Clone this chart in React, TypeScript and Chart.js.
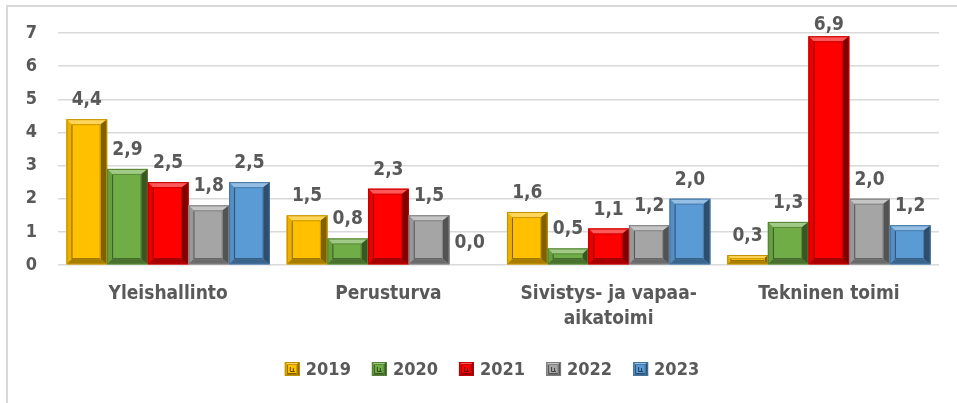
import React, { useEffect, useRef } from "react";
import { Chart, registerables } from "chart.js";

Chart.register(...registerables);

const categories: string[][] = [
  ["Yleishallinto"],
  ["Perusturva"],
  ["Sivistys- ja vapaa-", "aikatoimi"],
  ["Tekninen toimi"],
];
const seriesNames = ["2019", "2020", "2021", "2022", "2023"];
const values2019 = [4.4, 1.5, 1.6, 0.3];
const values2020 = [2.9, 0.8, 0.5, 1.3];
const values2021 = [2.5, 2.3, 1.1, 6.9];
const values2022 = [1.8, 1.5, 1.2, 2.0];
const values2023 = [2.5, 0.0, 2.0, 1.2];
const seriesColors = ["#FFC000", "#70AD47", "#FF0000", "#A5A5A5", "#5B9BD5"];
const yMin = 0;
const yMax = 7;
const yStep = 1;

const FONT = "'DejaVu Sans Condensed', 'DejaVu Sans', sans-serif";
const TEXT = "#595959";

function hexToRgb(h: string) {
  const v = parseInt(h.slice(1), 16);
  return [(v >> 16) & 255, (v >> 8) & 255, v & 255];
}
function mix(hex: string, target: number, amt: number) {
  const [r, g, b] = hexToRgb(hex);
  const f = (c: number) => Math.round(c + (target - c) * amt);
  return `rgb(${f(r)},${f(g)},${f(b)})`;
}

function quad(ctx: CanvasRenderingContext2D, pts: number[][], fill: string) {
  ctx.beginPath();
  ctx.moveTo(pts[0][0], pts[0][1]);
  for (let i = 1; i < pts.length; i++) ctx.lineTo(pts[i][0], pts[i][1]);
  ctx.closePath();
  ctx.fillStyle = fill;
  ctx.fill();
}

function drawBevel(
  ctx: CanvasRenderingContext2D,
  l: number,
  t: number,
  r: number,
  b: number,
  color: string,
  band: number
) {
  const w = r - l;
  const h = b - t;
  if (w < 1 || h < 0.8) return;
  const bw = Math.max(1, Math.min(band, w / 3, h / 3));
  const bwR = Math.max(1, Math.min(band * 1.3, w / 3, h / 3));
  ctx.save();
  ctx.fillStyle = color;
  ctx.fillRect(l, t, w, h);
  quad(ctx, [[l, t], [r, t], [r - bwR, t + bw], [l + bw, t + bw]], mix(color, 255, 0.35));
  quad(ctx, [[l, t], [l + bw, t + bw], [l + bw, b - bw], [l, b]], mix(color, 0, 0.08));
  quad(ctx, [[r, t], [r, b], [r - bwR, b - bw], [r - bwR, t + bw]], mix(color, 0, 0.5));
  quad(ctx, [[l, b], [r, b], [r - bwR, b - bw], [l + bw, b - bw]], mix(color, 0, 0.35));
  ctx.lineWidth = 1;
  const il = l + bw + 0.5;
  const it = t + bw + 0.5;
  const ir = r - bwR - 0.5;
  const ib = b - bw - 0.5;
  if (ir > il && ib > it) {
    ctx.strokeStyle = mix(color, 0, 0.5);
    ctx.beginPath();
    ctx.moveTo(il, it);
    ctx.lineTo(il, ib);
    ctx.lineTo(ir, ib);
    ctx.stroke();
    ctx.strokeStyle = mix(color, 0, 0.2);
    ctx.beginPath();
    ctx.moveTo(il, it);
    ctx.lineTo(ir, it);
    ctx.lineTo(ir, ib);
    ctx.stroke();
  }
  ctx.strokeStyle = mix(color, 0, 0.25);
  ctx.strokeRect(l + 0.5, t + 0.5, w - 1, h - 1);
  ctx.restore();
}

const fmt = (v: number) => v.toFixed(1).replace(".", ",");

const bevelPlugin = {
  id: "bevelBars",
  afterDatasetsDraw(chart: any) {
    const ctx: CanvasRenderingContext2D = chart.ctx;
    chart.data.datasets.forEach((ds: any, di: number) => {
      const meta = chart.getDatasetMeta(di);
      meta.data.forEach((el: any) => {
        const half = el.width / 2;
        const top = Math.min(el.y, el.base);
        const bot = Math.max(el.y, el.base);
        drawBevel(ctx, el.x - half, top, el.x + half, bot, seriesColors[di], 5);
      });
    });
    // data labels
    ctx.save();
    ctx.font = `bold 19px ${FONT}`;
    ctx.fillStyle = TEXT;
    ctx.textAlign = "center";
    ctx.textBaseline = "alphabetic";
    chart.data.datasets.forEach((ds: any, di: number) => {
      const meta = chart.getDatasetMeta(di);
      meta.data.forEach((el: any, i: number) => {
        const v = ds.data[i];
        let y = el.y - 14;
        if (v === 0) y = el.y - 17;
        y = Math.max(y, 30);
        ctx.fillText(fmt(v), el.x, y);
      });
    });
    ctx.restore();
  },
};

const legendPlugin = {
  id: "customLegend",
  afterDraw(chart: any) {
    const ctx: CanvasRenderingContext2D = chart.ctx;
    ctx.save();
    ctx.font = `bold 18px ${FONT}`;
    const boxW = 15;
    const boxH = 14;
    const gapText = 6;
    const gapItem = 21;
    const widths = seriesNames.map((n) => boxW + gapText + ctx.measureText(n).width);
    const total = widths.reduce((a, b) => a + b, 0) + gapItem * (seriesNames.length - 1);
    let x = 492 - total / 2;
    const cy = 369;
    seriesNames.forEach((n, i) => {
      const bx = x;
      const by = cy - boxH / 2;
      drawBevel(ctx, bx, by, bx + boxW, by + boxH, seriesColors[i], 2);
      ctx.strokeStyle = mix(seriesColors[i], 0, 0.6);
      ctx.lineWidth = 1;
      ctx.beginPath();
      ctx.moveTo(bx + 5.5, by + 5);
      ctx.lineTo(bx + 5.5, by + 9.5);
      ctx.lineTo(bx + 10, by + 9.5);
      ctx.moveTo(bx + 8.5, by + 6);
      ctx.lineTo(bx + 8.5, by + 9.5);
      ctx.stroke();
      ctx.fillStyle = TEXT;
      ctx.textAlign = "left";
      ctx.textBaseline = "middle";
      ctx.fillText(n, bx + boxW + gapText, cy + 1);
      x += widths[i] + gapItem;
    });
    ctx.restore();
  },
};

export default function App() {
  const ref = useRef<HTMLCanvasElement | null>(null);
  useEffect(() => {
    document.body.style.margin = "0";
    document.body.style.overflow = "hidden";
    if (!ref.current) return;
    const allValues = [values2019, values2020, values2021, values2022, values2023];
    const chart = new Chart(ref.current, {
      type: "bar",
      data: {
        labels: categories,
        datasets: allValues.map((vals, i) => ({
          label: seriesNames[i],
          data: vals,
          backgroundColor: seriesColors[i],
          borderWidth: 0,
          categoryPercentage: 0.923,
          barPercentage: 1,
        })),
      },
      options: {
        animation: false,
        responsive: false,
        maintainAspectRatio: false,
        events: [],
        layout: { padding: { left: 0, right: 18, top: 33, bottom: 0 } },
        plugins: { legend: { display: false }, tooltip: { enabled: false }, title: { display: false } },
        scales: {
          x: {
            grid: { display: false, drawTicks: false },
            border: { display: false },
            ticks: {
              color: TEXT,
              font: { family: FONT, size: 19, weight: "bold", lineHeight: 1.35 },
              padding: 16,
              maxRotation: 0,
              autoSkip: false,
            },
            afterFit: (s: any) => {
              s.height = 403 - 265;
            },
          },
          y: {
            min: yMin,
            max: yMax,
            grid: { color: "#d9d9d9", lineWidth: 1.5, drawTicks: false },
            border: { display: false },
            ticks: {
              stepSize: yStep,
              color: TEXT,
              font: { family: FONT, size: 18, weight: "bold" },
              padding: 21,
            },
            afterFit: (s: any) => {
              s.width = 58;
            },
          },
        },
      },
      plugins: [bevelPlugin, legendPlugin],
    } as any);
    return () => chart.destroy();
  }, []);
  return (
    <div style={{ position: "relative", width: 957, height: 403, overflow: "hidden", background: "#fff" }}>
      <div
        style={{
          position: "absolute",
          left: 6,
          top: 5,
          width: 1000,
          height: 500,
          border: "2px solid #d9d9d9",
          boxSizing: "border-box",
        }}
      />
      <canvas ref={ref} width={957} height={403} style={{ position: "absolute", left: 0, top: 0, width: 957, height: 403 }} />
    </div>
  );
}
